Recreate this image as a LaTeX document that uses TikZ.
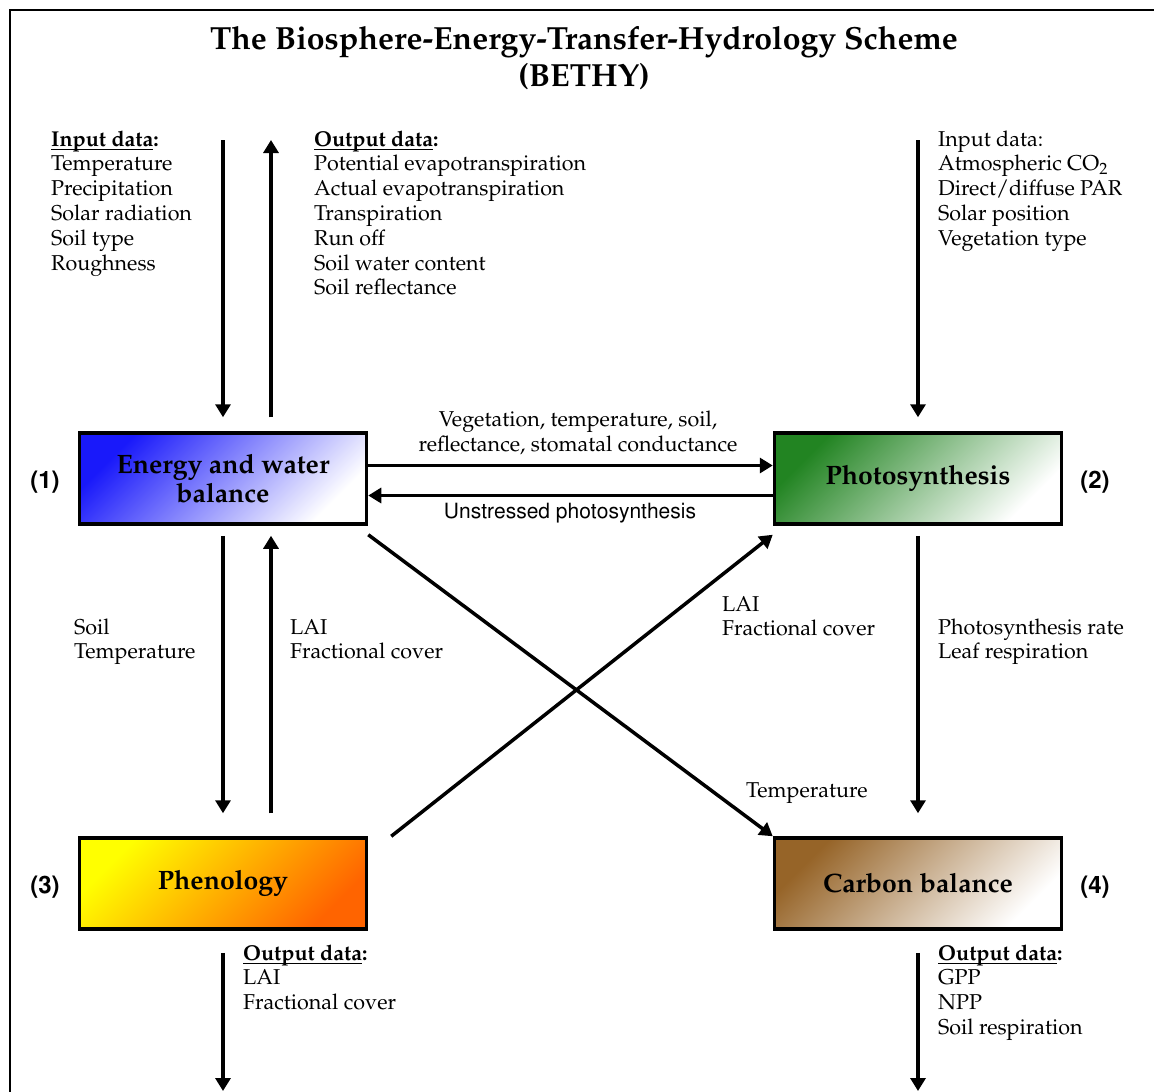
\documentclass[tikz,border=0pt]{standalone}
\usepackage[T1]{fontenc}
\usepackage{mathpazo}
\usepackage{helvet}
\usetikzlibrary{arrows.meta}
\definecolor{ewbblue}{RGB}{25,25,250}
\definecolor{phogreen}{RGB}{34,132,34}
\definecolor{pheyellow}{RGB}{255,255,0}
\definecolor{pheorange}{RGB}{255,100,0}
\definecolor{cabbrown}{RGB}{150,100,40}
\newcommand{\txtfont}{\fontsize{21.5}{24.8}\selectfont}
\newcommand{\boxfont}{\fontsize{26.6}{29.5}\selectfont\bfseries}
\newcommand{\hdata}[1]{\underline{\smash{\textbf{#1}}}\textbf{:}}
\begin{document}
\begin{tikzpicture}[x=1pt,y=-1pt,
   box/.style={draw,line width=3.5pt,minimum width=287pt,minimum height=91pt,
      align=center,font=\boxfont},
   fade/.style 2 args={top color=#1,bottom color=#2,shading angle=45},
   txt/.style={align=left,inner sep=0pt,font=\txtfont},
   num/.style={font=\fontsize{24}{28}\selectfont\sffamily\bfseries},
   arr/.style={line width=3.5pt,-{Triangle[length=13pt,width=15pt]}}]
   \useasboundingbox (0,0) rectangle (1154,1092);
   \clip (0,0) rectangle (1154,1092);
   \draw[line width=2.7pt] (10,10) rectangle (1200,1200);
   \node[align=center,font=\fontsize{32}{37}\selectfont\bfseries] (title) at (584,58)
      {The Biosphere-Energy-Transfer-Hydrology Scheme\\(BETHY)};

   \node[box,fade={ewbblue}{white}] (ewb) at (223,478.5) {Energy and water\\balance};
   \node[box,fade={phogreen}{white}] (pho) at (918,478.5) {Photosynthesis};
   \node[box,fade={pheyellow}{pheorange}] (phe) at (223,883.5) {Phenology};
   \node[box,fade={cabbrown}{white}] (cab) at (918,883.5) {Carbon balance};
   \node[num] (n1) at (45,482) {(1)};
   \node[num] (n2) at (1095,482) {(2)};
   \node[num] (n3) at (45,887) {(3)};
   \node[num] (n4) at (1095,887) {(4)};

   % anchor base = baseline of the last line
   \node[txt,anchor=base west] (inewb) at (51,270)
      {\hdata{Input data}\\Temperature\\Precipitation\\Solar radiation\\Soil type\\Roughness};
   \node[txt,anchor=base west] (outewb) at (314,294.8)
      {\hdata{Output data}\\Potential evapotranspiration\\Actual evapotranspiration\\
      Transpiration\\Run off\\Soil water content\\Soil reflectance};
   \node[txt,anchor=base west] (inpho) at (938,245.2)
      {Input data:\\Atmospheric CO\textsubscript{2}\\Direct/diffuse PAR\\Solar position\\
      Vegetation type};
   \node[txt,align=center,anchor=base] (labveg) at (578,451)
      {Vegetation, temperature, soil,\\reflectance, stomatal conductance};
   \node[inner sep=0pt,anchor=base,font=\fontsize{21}{25}\selectfont\sffamily] (labuns)
      at (570,518) {Unstressed photosynthesis};
   \node[txt,anchor=base west] (labsoil) at (74,658.8) {Soil\\Temperature};
   \node[txt,anchor=base west] (lablai) at (290,658.8) {LAI\\Fractional cover};
   \node[txt,anchor=base west] (labrate) at (938,658.8) {Photosynthesis rate\\Leaf respiration};
   \node[txt,anchor=base west] (labcov) at (722,635.8) {LAI\\Fractional cover};
   \node[txt,anchor=base west] (labtemp) at (746,797) {Temperature};
   \node[txt,anchor=base west] (outphe) at (243,1009.6)
      {\hdata{Output data}\\LAI\\Fractional cover};
   \node[txt,anchor=base west] (outcab) at (938,1034.4)
      {\hdata{Output data}\\GPP\\NPP\\Soil respiration};

   \coordinate (in1) at (223,140);
   \coordinate (out1) at (271,140);
   \coordinate (in2) at (918,140);
   \coordinate (out3) at (223,1091);
   \coordinate (out4) at (918,1091);

   \draw[arr,shorten >=14pt] (in1) -- (in1 |- ewb.north);
   \draw[arr,shorten <=14pt] (out1 |- ewb.north) -- (out1);
   \draw[arr,shorten >=14pt] (in2) -- (pho.north);
   \draw[arr] ([yshift=13pt]ewb.east) -- ([yshift=13pt]pho.west);
   \draw[arr] ([yshift=-17pt]pho.west) -- ([yshift=-17pt]ewb.east);
   \draw[arr,shorten <=10pt,shorten >=23pt] (ewb.south) -- (phe.north);
   \draw[arr,shorten <=23pt,shorten >=10pt] ([xshift=48pt]phe.north) -- ([xshift=48pt]ewb.south);
   \draw[arr,shorten <=10pt,shorten >=23pt] (pho.south) -- (cab.north);
   \draw[arr] ([yshift=-9pt]ewb.south east) -- (cab.north west);
   \draw[arr] ([xshift=23pt]phe.north east) -- ([yshift=-9pt]pho.south west);
   \draw[arr,shorten <=22pt] (phe.south) -- (out3);
   \draw[arr,shorten <=22pt] (cab.south) -- (out4);
\end{tikzpicture}
\end{document}
